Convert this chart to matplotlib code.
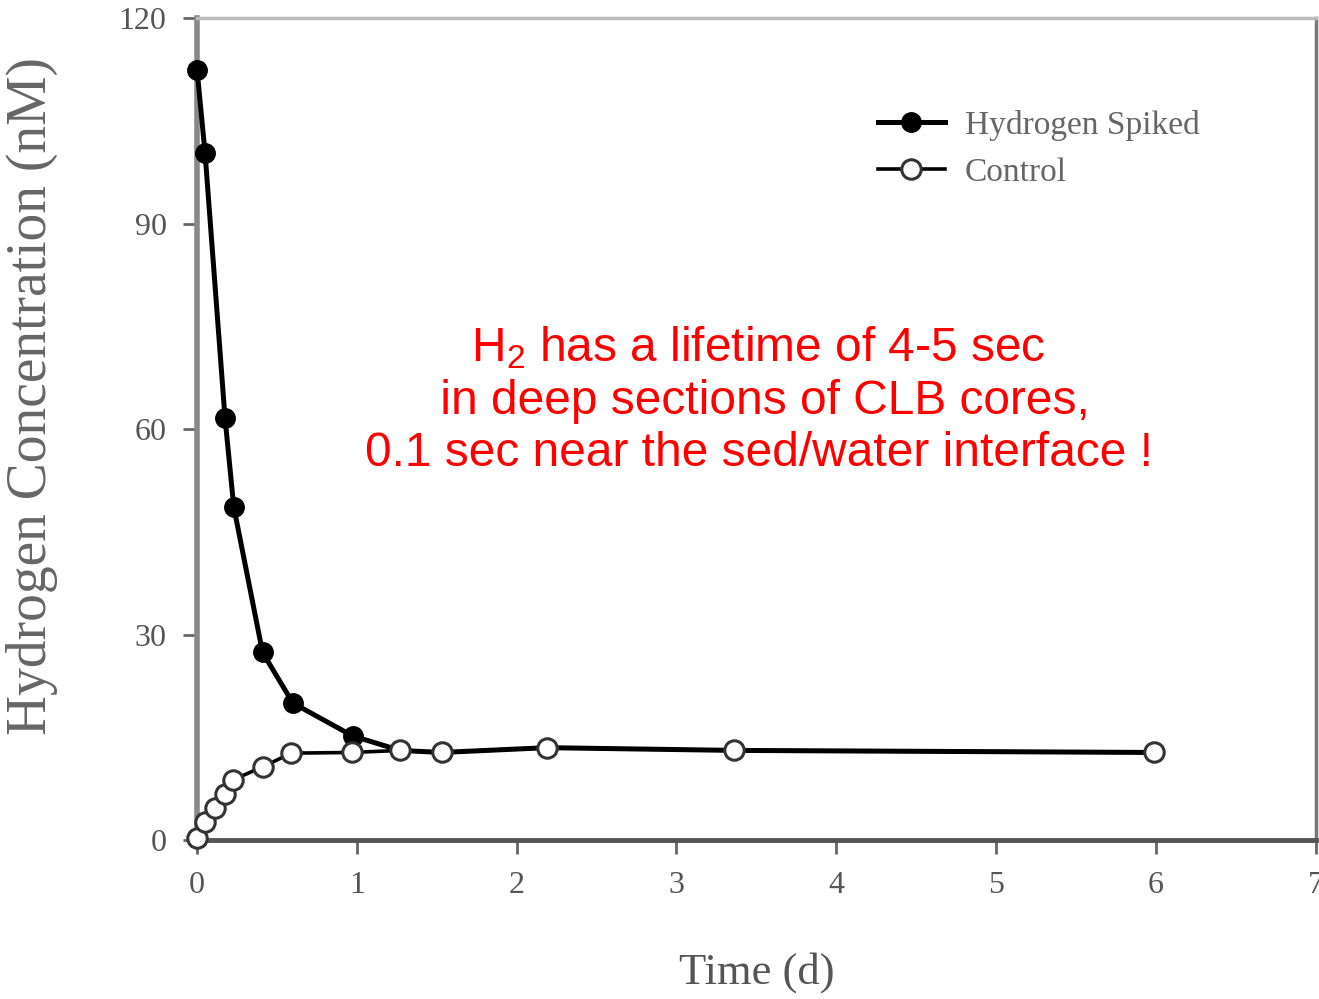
import matplotlib
matplotlib.use("Agg")
import matplotlib.pyplot as plt

plt.rcParams['mathtext.fontset'] = 'custom'
plt.rcParams['mathtext.rm'] = 'Liberation Sans'

spiked_t = [0.0, 0.05, 0.175, 0.23, 0.41, 0.6, 0.975, 1.27, 1.53, 2.19, 3.36, 5.99]
spiked_c = [112.4, 100.3, 61.6, 48.6, 27.4, 20.0, 15.2, 13.1, 12.8, 13.5, 13.1, 12.8]
control_t = [0.0, 0.05, 0.11, 0.175, 0.225, 0.41, 0.59, 0.97, 1.27, 1.53, 2.19, 3.36, 5.99]
control_c = [0.3, 2.6, 4.7, 6.8, 8.8, 10.7, 12.7, 12.8, 13.1, 12.8, 13.5, 13.1, 12.8]
xticks = [0, 1, 2, 3, 4, 5, 6, 7]
yticks = [0, 30, 60, 90, 120]

fig = plt.figure(figsize=(13.19, 9.99), dpi=100)
ax = fig.add_axes([0.1494, 0.159, 0.848, 0.823])

ax.plot(spiked_t, spiked_c, '-o', color='black', lw=3.6, ms=14,
        mfc='black', mec='black', label='Hydrogen Spiked', zorder=3, clip_on=False)
ax.plot(control_t, control_c, '-o', color='black', lw=2.6, ms=14,
        mfc='white', mec='#333333', mew=2.2, label='Control', zorder=4, clip_on=False)

ax.set_xlim(0, 7)
ax.set_ylim(0, 120)
ax.set_xticks(xticks)
ax.set_yticks(yticks)
ax.tick_params(axis='both', direction='out', length=10, width=2, color='#666666',
               labelcolor='#555555', labelsize=23, pad=12)
for lab in ax.get_xticklabels() + ax.get_yticklabels():
    lab.set_family('Liberation Serif')

ax.spines['left'].set_linewidth(4)
ax.spines['left'].set_color('#888888')
ax.spines['bottom'].set_linewidth(3.5)
ax.spines['bottom'].set_color('#555555')
ax.spines['top'].set_linewidth(2.5)
ax.spines['top'].set_color('#bbbbbb')
ax.spines['right'].set_linewidth(2.5)
ax.spines['right'].set_color('#777777')

ax.set_xlabel('Time (d)', family='Liberation Serif', fontsize=32, color='#555555', labelpad=38)
ax.set_ylabel('Hydrogen Concentration (nM)', family='Liberation Serif', fontsize=40,
              color='#666666')
ax.yaxis.set_label_coords(-0.124, 0.54)

leg = ax.legend(loc='upper right', bbox_to_anchor=(0.923, 0.925), frameon=False,
                prop={'family': 'Liberation Serif', 'size': 24}, handlelength=2.0,
                handletextpad=0.6, labelspacing=0.5)
for t in leg.get_texts():
    t.set_color('#666666')

ax.text(0.502, 0.535,
        'H$\\mathregular{_2}$ has a lifetime of 4-5 sec\n in deep sections of CLB cores,\n0.1 sec near the sed/water interface !',
        transform=ax.transAxes, ha='center', va='center', color='#ff0000',
        family='Liberation Sans', fontsize=34.5, linespacing=1.2, multialignment='center')

fig.savefig('out.png', dpi=100)
